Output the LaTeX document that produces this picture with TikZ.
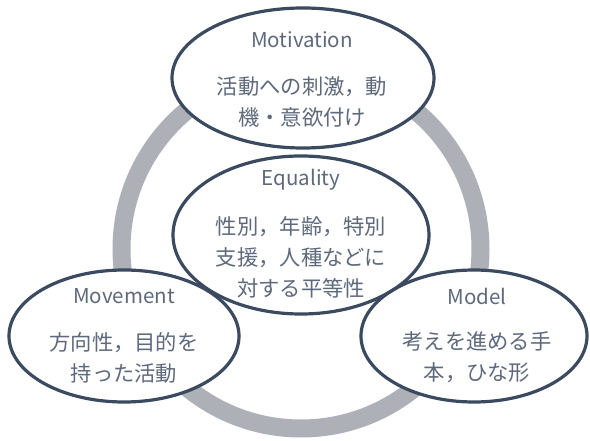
\documentclass[tikz,border=0pt]{standalone}
\usepackage{fontspec}
\setmainfont{Noto Sans CJK JP}
\definecolor{ringgray}{HTML}{ADB1B7}
\definecolor{edge}{HTML}{3B4A5F}
\definecolor{txt}{HTML}{5E697C}
\begin{document}
\begin{tikzpicture}[x=1pt,y=-1pt,
  ov/.style={draw=edge,line width=3.2pt},
  ttl/.style={text=txt,inner sep=0pt,font=\fontsize{20.5}{31}\selectfont},
  body/.style={text=txt,inner sep=0pt,align=center,font=\fontsize{21.3}{31}\selectfont}]
\useasboundingbox[fill=white] (0,0) rectangle (590,441);
% ring
\draw[ringgray,line width=18pt] (301,249) circle[radius=179.5];
% fills
\foreach \c/\rx/\ry in {{(303,78)}/131/70,{(301,235)}/128/79,{(124,336)}/115/66,{(474,336)}/113/66}
  \fill[white] \c ellipse[x radius=\rx,y radius=\ry];
% outlines
\draw[ov] (303,78) ellipse[x radius=131,y radius=70];
\draw[ov] (301,235) ellipse[x radius=128,y radius=79];
\draw[ov] (124,336) ellipse[x radius=115,y radius=66];
\draw[ov] (474,336) ellipse[x radius=113,y radius=66];
% texts
\node[ttl] (motT) at (302,40) {Motivation};
\node[body] (motB) at (302,101.5) {活動への刺激，動\\機・意欲付け};
\node[ttl] (eqT) at (301,180) {Equality};
\node[body] (eqB) at (301,257) {性別，年齢，特別\\支援，人種などに\\対する平等性};
\node[ttl] (movT) at (124,296) {Movement};
\node[body] (movB) at (124,357.5) {方向性，目的を\\持った活動};
\node[ttl] (modT) at (477,296) {Model};
\node[body] (modB) at (477,357.5) {考えを進める手\\本，ひな形};
\end{tikzpicture}
\end{document}
